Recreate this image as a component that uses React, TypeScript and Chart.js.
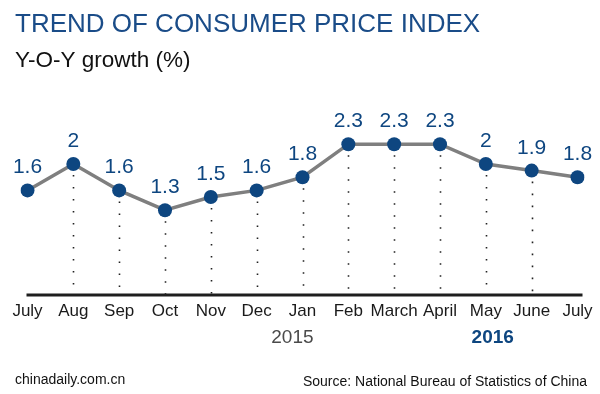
import React, { useEffect, useRef } from "react";
import { Chart, registerables } from "chart.js";

Chart.register(...registerables);

const months = ["July", "Aug", "Sep", "Oct", "Nov", "Dec", "Jan", "Feb", "March", "April", "May", "June", "July"];
const cpiValues = [1.6, 2, 1.6, 1.3, 1.5, 1.6, 1.8, 2.3, 2.3, 2.3, 2, 1.9, 1.8];
const valueLabels = ["1.6", "2", "1.6", "1.3", "1.5", "1.6", "1.8", "2.3", "2.3", "2.3", "2", "1.9", "1.8"];
const yearLabels = ["2015", "2016"];

const TITLE = "TREND OF CONSUMER PRICE INDEX";
const SUBTITLE = "Y-O-Y growth (%)";
const SITE = "chinadaily.com.cn";
const SOURCE = "Source: National Bureau of Statistics of China";

const FONT = "'Liberation Sans', Arial, Helvetica, sans-serif";
const BLUE = "#0e4680";
const TITLE_BLUE = "#1a4c88";

const decorPlugin = {
  id: "decor",
  beforeDatasetsDraw(chart: any) {
    const ctx = chart.ctx;
    const x = chart.scales.x;
    const y = chart.scales.y;
    const base = y.getPixelForValue(0);
    ctx.save();
    // dotted drop lines
    ctx.strokeStyle = "#222";
    ctx.lineWidth = 1.6;
    ctx.setLineDash([1.6, 10.4]);
    for (let i = 1; i < cpiValues.length - 1; i++) {
      const px = Math.round(x.getPixelForValue(i)) + 0.5;
      const py = y.getPixelForValue(cpiValues[i]);
      ctx.beginPath();
      ctx.moveTo(px, py + 11);
      ctx.lineTo(px, base - 2);
      ctx.stroke();
    }
    ctx.setLineDash([]);
    // axis line
    ctx.strokeStyle = "#1e1e1e";
    ctx.lineWidth = 3;
    ctx.beginPath();
    ctx.moveTo(x.getPixelForValue(0) - 1, base - 1);
    ctx.lineTo(x.getPixelForValue(months.length - 1) + 5, base - 1);
    ctx.stroke();
    ctx.restore();
  },
  afterDatasetsDraw(chart: any) {
    const ctx = chart.ctx;
    const x = chart.scales.x;
    const y = chart.scales.y;
    const base = y.getPixelForValue(0);
    ctx.save();
    // value labels
    ctx.fillStyle = BLUE;
    ctx.font = `21px ${FONT}`;
    ctx.textAlign = "center";
    ctx.textBaseline = "alphabetic";
    cpiValues.forEach((v, i) => {
      ctx.fillText(valueLabels[i], x.getPixelForValue(i), y.getPixelForValue(v) - 17);
    });
    // month labels
    ctx.fillStyle = "#1a1a1a";
    ctx.font = `17px ${FONT}`;
    months.forEach((m, i) => {
      ctx.fillText(m, x.getPixelForValue(i), base + 20);
    });
    // year labels
    ctx.font = `19px ${FONT}`;
    ctx.fillStyle = "#4a4a4a";
    ctx.fillText(yearLabels[0], x.getPixelForValue(5.78), base + 47);
    ctx.font = `bold 19px ${FONT}`;
    ctx.fillStyle = BLUE;
    ctx.fillText(yearLabels[1], x.getPixelForValue(10.15), base + 47);

    // titles
    ctx.textAlign = "left";
    ctx.fillStyle = TITLE_BLUE;
    ctx.font = `26px ${FONT}`;
    ctx.fillText(TITLE, 15, 32);
    ctx.fillStyle = "#111";
    ctx.font = `22.5px ${FONT}`;
    ctx.fillText(SUBTITLE, 15, 67);

    // footer
    ctx.fillStyle = "#111";
    ctx.font = `14px ${FONT}`;
    ctx.fillText(SITE, 15, 384);
    ctx.textAlign = "right";
    ctx.fillText(SOURCE, 587, 386);
    ctx.restore();
  },
};

export default function App() {
  const canvasRef = useRef<HTMLCanvasElement | null>(null);

  useEffect(() => {
    document.body.style.margin = "0";
    const canvas = canvasRef.current;
    if (!canvas) return;
    const chart = new Chart(canvas, {
      type: "line",
      data: {
        labels: months,
        datasets: [
          {
            data: cpiValues,
            borderColor: "#7f7f7f",
            borderWidth: 3.5,
            pointRadius: 7,
            pointHoverRadius: 7,
            pointBackgroundColor: BLUE,
            pointBorderColor: BLUE,
            pointBorderWidth: 0,
            tension: 0,
            fill: false,
          },
        ],
      },
      options: {
        responsive: false,
        animation: false,
        devicePixelRatio: 1,
        layout: { padding: { left: 27.5, right: 22.5, top: 98, bottom: 98 } },
        plugins: { legend: { display: false }, tooltip: { enabled: false }, title: { display: false } },
        scales: {
          x: { display: false, offset: false },
          y: { display: false, min: 0, max: 3 },
        },
      },
      plugins: [decorPlugin],
    });
    return () => chart.destroy();
  }, []);

  return (
    <div style={{ width: 600, height: 394, background: "#fff" }}>
      <canvas ref={canvasRef} width={600} height={394} style={{ display: "block" }} />
    </div>
  );
}
